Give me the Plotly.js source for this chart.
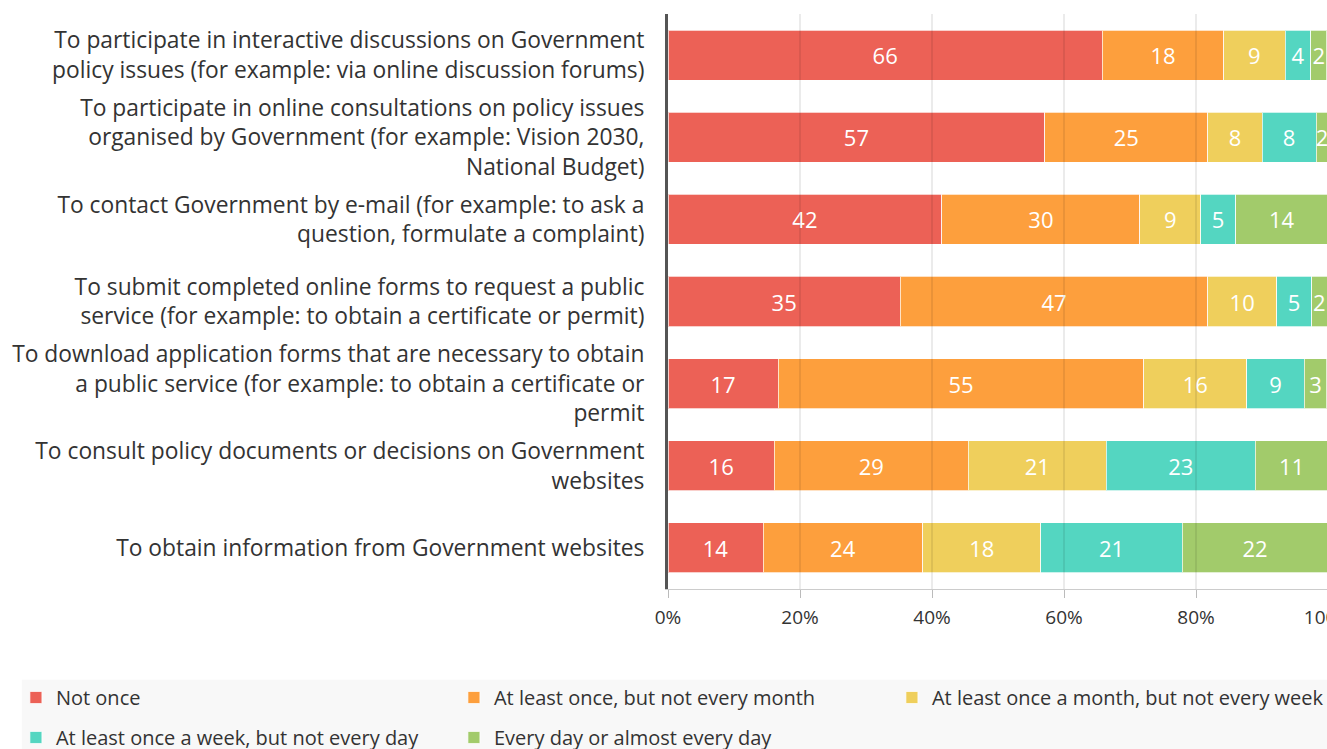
<!DOCTYPE html>
<html>
<head>
<meta charset="utf-8">
<script src="https://cdn.plot.ly/plotly-3.0.1.min.js"></script>
<style>
html,body{margin:0;padding:0;overflow:hidden;background:#fff;}
#chart{width:1400px;height:749px;}
</style>
</head>
<body>
<div id="chart"></div>
<script>
const categories = [
  "To participate in interactive discussions on Government<br>policy issues (for example: via online discussion forums)",
  "To participate in online consultations on policy issues<br>organised by Government (for example: Vision 2030,<br>National Budget)",
  "To contact Government by e-mail (for example: to ask a<br>question, formulate a complaint)",
  "To submit completed online forms to request a public<br>service (for example: to obtain a certificate or permit)",
  "To download application forms that are necessary to obtain<br>a public service (for example: to obtain a certificate or<br>permit",
  "To consult policy documents or decisions on Government<br>websites",
  "To obtain information from Government websites"
];
const seriesNames = [
  "Not once",
  "At least once, but not every month",
  "At least once a month, but not every week",
  "At least once a week, but not every day",
  "Every day or almost every day"
];
const notOnce      = [65.8, 57.1, 41.5, 35.2, 16.7, 16.1, 14.4];
const onceNotMonth = [18.4, 24.7, 30.0, 46.6, 55.4, 29.4, 24.2];
const monthNotWeek = [9.3, 8.2, 9.2, 10.4, 15.6, 20.9, 17.9];
const weekNotDay   = [3.9, 8.2, 5.3, 5.3, 8.7, 22.6, 21.4];
const everyDay     = [2.4, 1.8, 14.0, 2.4, 3.4, 11.0, 22.1];
const colors = ["#ec6156", "#fd9f3d", "#efcf5c", "#54d6c1", "#a2cb6b"];
const tickVals = [0, 20, 40, 60, 80, 100];
const tickLabels = ["0%", "20%", "40%", "60%", "80%", "100%"];
const legendRow = ["legend", "legend", "legend", "legend2", "legend2"];

const FONT = "'Open Sans', sans-serif";
const seriesValues = [notOnce, onceNotMonth, monthNotWeek, weekNotDay, everyDay];
const traces = seriesValues.map((vals, i) => ({
  type: "bar",
  orientation: "h",
  name: seriesNames[i],
  legend: legendRow[i],
  y: categories,
  x: vals,
  marker: {color: colors[i], line: {color: "rgba(255,255,255,0.7)", width: 1}},
  texttemplate: "%{x:.0f}",
  textposition: "inside",
  insidetextanchor: "middle",
  textangle: 0,
  constraintext: "none",
  textfont: {family: FONT, size: 22, color: "#ffffff"},
  hoverinfo: "x+name"
}));

const gridShapes = tickVals.filter(v => v > 0 && v < 100).map(v => ({
  type: "line", xref: "x", yref: "paper", x0: v, x1: v, y0: 0, y1: 1,
  line: {color: "rgba(0,0,0,0.16)", width: 1}, layer: "above"
}));
// light grey band behind the legend
gridShapes.push({
  type: "rect", xref: "paper", yref: "paper",
  x0: -0.979, x1: 1.2, y0: -0.158, y1: -0.32,
  fillcolor: "#f8f8f8", line: {width: 0}, layer: "below"
});

const legendCommon = {
  orientation: "h",
  xref: "paper",
  yref: "paper",
  x: -0.988,
  xanchor: "left",
  yanchor: "top",
  bgcolor: "rgba(0,0,0,0)",
  entrywidth: 393,
  entrywidthmode: "pixels",
  traceorder: "normal",
  font: {family: FONT, size: 20, color: "#333333"},
  itemclick: false
};

const layout = {
  width: 1400,
  height: 749,
  barmode: "stack",
  bargap: 0.39,
  paper_bgcolor: "#ffffff",
  plot_bgcolor: "#ffffff",
  margin: {l: 668, r: 72, t: 14, b: 160, autoexpand: false},
  font: {family: FONT, color: "#333333"},
  uniformtext: {minsize: 22, mode: "show"},
  xaxis: {
    range: [0, 100],
    tickmode: "array",
    tickvals: tickVals,
    ticktext: tickLabels,
    showgrid: false,
    zeroline: false,
    showline: true,
    linecolor: "#cccccc",
    linewidth: 1,
    ticks: "outside",
    ticklen: 8,
    tickcolor: "#bbbbbb",
    ticklabelstandoff: 3,
    tickfont: {family: FONT, size: 19, color: "#333333"},
    fixedrange: true
  },
  yaxis: {
    autorange: "reversed",
    showline: true,
    linecolor: "#555555",
    linewidth: 3,
    ticks: "",
    ticklabelstandoff: 16,
    tickfont: {family: FONT, size: 22.8, color: "#333333"},
    showgrid: false,
    fixedrange: true
  },
  shapes: gridShapes,
  showlegend: true,
  legend: Object.assign({}, legendCommon, {y: -0.1548}),
  legend2: Object.assign({}, legendCommon, {y: -0.2243})
};

Plotly.newPlot("chart", traces, layout, {displayModeBar: false});
</script>
</body>
</html>
